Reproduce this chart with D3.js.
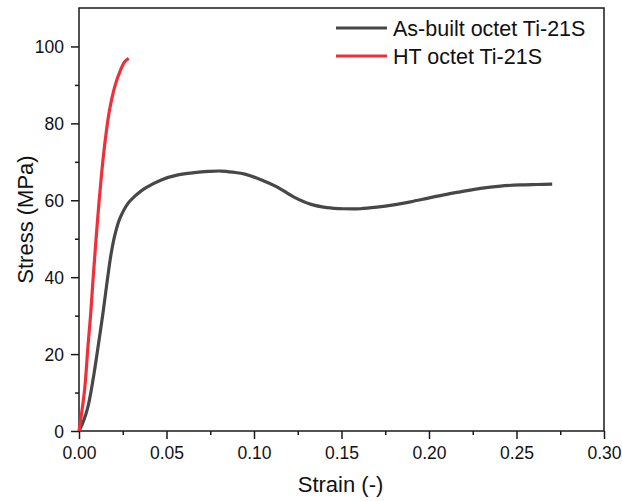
<!DOCTYPE html>
<html>
<head>
<meta charset="utf-8">
<script src="https://cdn.jsdelivr.net/npm/d3@7"></script>
<style>
  body { margin: 0; background: #fff; }
  svg text { font-family: "Liberation Sans", Arial, sans-serif; fill: #111; }
</style>
</head>
<body>
<svg id="chart" width="622" height="501"></svg>
<script>
// values
const asBuiltStrain = [0, 0.0025, 0.0051, 0.008, 0.0109, 0.0137, 0.0162, 0.0185, 0.0208, 0.0233, 0.028, 0.033, 0.0376, 0.047, 0.0566, 0.066, 0.0740, 0.0814, 0.0880, 0.0948, 0.1043, 0.1131, 0.1226, 0.1322, 0.1417, 0.1512, 0.1608, 0.1703, 0.1798, 0.1894, 0.1989, 0.2084, 0.218, 0.2294, 0.2408, 0.2523, 0.2620, 0.2704];
const asBuiltStress = [0, 2.5, 6.3, 13.3, 21.9, 30.7, 39.3, 46.5, 51.5, 55.2, 59.2, 61.5, 63.1, 65.3, 66.6, 67.2, 67.5, 67.6, 67.3, 66.8, 65.3, 63.5, 60.9, 59.0, 58.1, 57.8, 57.8, 58.2, 58.8, 59.6, 60.5, 61.4, 62.2, 63.1, 63.7, 64.0, 64.1, 64.2];

const htStrain = [0, 0.0032, 0.0051, 0.0067, 0.008, 0.0109, 0.0137, 0.0156, 0.0175, 0.0204, 0.0233, 0.0261, 0.0284];
const htStress = [0, 10.7, 21.9, 30.6, 39.3, 56.5, 70.5, 77.8, 83.6, 89.5, 93.4, 96.0, 96.9];

const seriesNames = ["As-built octet Ti-21S", "HT octet Ti-21S"];
const seriesColors = ["#474747", "#f03039"];

const xTicks = [0, 0.05, 0.10, 0.15, 0.20, 0.25, 0.30];
const yTicks = [0, 20, 40, 60, 80, 100];

const svg = d3.select("#chart");
const plotLeft = 79, plotRight = 604, plotTop = 8, plotBottom = 431;

const x = d3.scaleLinear().domain([0, 0.3]).range([plotLeft, plotRight]);
const y = d3.scaleLinear().domain([0, 110]).range([plotBottom, plotTop]);

// frame
svg.append("rect")
  .attr("x", plotLeft).attr("y", plotTop)
  .attr("width", plotRight - plotLeft).attr("height", plotBottom - plotTop)
  .attr("fill", "none").attr("stroke", "#1a1a1a").attr("stroke-width", 1.5);

// x axis
const xAxis = svg.append("g").attr("transform", `translate(0,${plotBottom})`);
xAxis.append("g").call(d3.axisBottom(x).tickValues(d3.range(0.025, 0.3, 0.05)).tickSize(4).tickFormat(""));
xAxis.append("g").call(d3.axisBottom(x).tickValues(xTicks).tickSize(8).tickFormat(d3.format(".2f")));
xAxis.selectAll(".domain").remove();
xAxis.selectAll("line").attr("stroke", "#1a1a1a").attr("stroke-width", 1.5);
xAxis.selectAll("text").attr("font-size", 17.5).attr("fill", "#111").attr("dy", null).attr("y", 28);

// y axis
const yAxis = svg.append("g").attr("transform", `translate(${plotLeft},0)`);
yAxis.append("g").call(d3.axisLeft(y).tickValues(d3.range(10, 110, 20)).tickSize(4).tickFormat(""));
yAxis.append("g").call(d3.axisLeft(y).tickValues(yTicks).tickSize(8));
yAxis.selectAll(".domain").remove();
yAxis.selectAll("line").attr("stroke", "#1a1a1a").attr("stroke-width", 1.5);
yAxis.selectAll("text").attr("font-size", 17.5).attr("fill", "#111").attr("x", -15).attr("dy", "0.35em");

// axis titles
svg.append("text")
  .attr("x", (plotLeft + plotRight) / 2 - 1).attr("y", 492)
  .attr("text-anchor", "middle").attr("font-size", 22)
  .text("Strain (-)");
svg.append("text")
  .attr("transform", `translate(33,${(plotTop + plotBottom) / 2}) rotate(-90)`)
  .attr("text-anchor", "middle").attr("font-size", 22)
  .text("Stress (MPa)");

// curves
const line = d3.line().curve(d3.curveCatmullRom.alpha(0.5));
const series = [
  d3.zip(asBuiltStrain, asBuiltStress),
  d3.zip(htStrain, htStress)
];
series.forEach((pts, i) => {
  svg.append("path")
    .attr("d", line(pts.map(d => [x(d[0]), y(d[1])])))
    .attr("fill", "none")
    .attr("stroke", seriesColors[i])
    .attr("stroke-width", 3.2)
    .attr("stroke-linejoin", "round");
});

// legend
const legend = svg.append("g").attr("transform", "translate(336,28)");
seriesNames.forEach((name, i) => {
  const g = legend.append("g").attr("transform", `translate(0,${i * 28})`);
  g.append("line").attr("x1", 0).attr("x2", 51)
    .attr("stroke", seriesColors[i]).attr("stroke-width", 3);
  g.append("text").attr("x", 57).attr("dy", "0.35em")
    .attr("font-size", 21.5).text(name);
});
</script>
</body>
</html>
